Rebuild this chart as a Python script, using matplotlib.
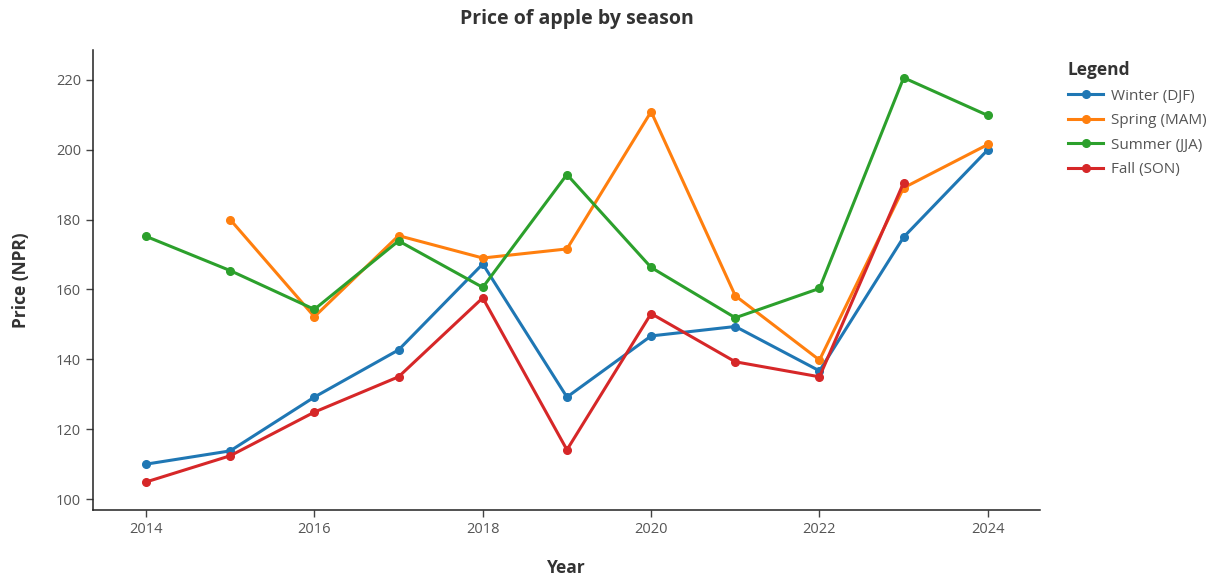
import numpy as np
import matplotlib.pyplot as plt

plt.rcParams['font.family'] = ['Open Sans', 'DejaVu Sans']

years = [2014, 2015, 2016, 2017, 2018, 2019, 2020, 2021, 2022, 2023, 2024]

winter = [110.0, 113.8, 129.2, 142.7, 167.3, 129.2, 146.7, 149.4, 136.7, 175.0, 200.0]
spring = [np.nan, 180.0, 152.2, 175.4, 169.0, 171.6, 210.9, 158.2, 139.8, 189.1, 201.5]
summer = [175.2, 165.4, 154.3, 173.9, 160.6, 192.9, 166.3, 151.9, 160.3, 220.6, 209.8]
fall = [104.9, 112.4, 124.9, 135.0, 157.6, 114.1, 153.1, 139.3, 135.0, 190.6, np.nan]

series = [("Winter (DJF)", winter, "#1f77b4"),
          ("Spring (MAM)", spring, "#ff7f0e"),
          ("Summer (JJA)", summer, "#2ca02c"),
          ("Fall (SON)", fall, "#d62728")]

fig = plt.figure(figsize=(12.22, 5.79), dpi=100)
ax = fig.add_axes([0.0761, 0.119, 0.775, 0.795])

for name, vals, col in series:
    ax.plot(years, vals, color=col, lw=2.2, marker='o', ms=5.5, label=name)

ax.set_xlim(2013.37, 2024.62)
ax.set_ylim(96.85, 228.6)
ax.set_xticks(range(2014, 2025, 2))
ax.set_yticks(range(100, 221, 20))

for s in ['top', 'right']:
    ax.spines[s].set_visible(False)
for s in ['left', 'bottom']:
    ax.spines[s].set_color('#222222')
    ax.spines[s].set_linewidth(1.1)
ax.tick_params(axis='both', length=5, width=1, color='#444444',
               labelcolor='#555555', labelsize=10.5)

ax.set_xlabel("Year", fontsize=12.5, fontweight='bold', color='#333333', labelpad=16)
ax.set_ylabel("Price (NPR)", fontsize=12.5, fontweight='bold', color='#333333', labelpad=19)
fig.text(0.472, 0.968, "Price of apple by season", ha='center', va='center',
         fontsize=14, fontweight='bold', color='#333333')

leg = ax.legend(title="Legend", loc='upper left', bbox_to_anchor=(1.015, 1.005),
                frameon=False, fontsize=11, handlelength=2.3, handletextpad=0.5,
                labelspacing=0.62, alignment='left')
leg.get_title().set_fontweight('bold')
leg.get_title().set_fontsize(12.5)
leg.get_title().set_color('#333333')
for t in leg.get_texts():
    t.set_color('#555555')

fig.savefig("out.png", dpi=100)
